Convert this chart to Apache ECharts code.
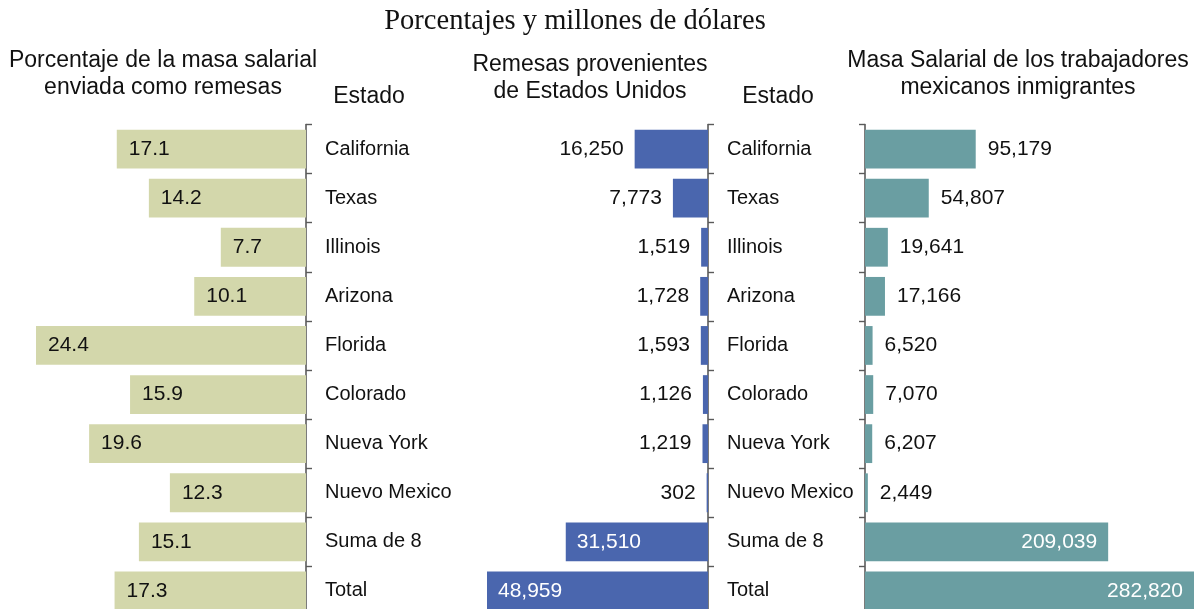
<!DOCTYPE html>
<html>
<head>
<meta charset="utf-8">
<script src="https://cdn.jsdelivr.net/npm/echarts@6/dist/echarts.min.js"></script>
<style>
html,body{margin:0;padding:0;background:#fff;}
#c{width:1194px;height:609px;}
</style>
</head>
<body>
<div id="c"></div>
<script>
var categories = ['California','Texas','Illinois','Arizona','Florida','Colorado','Nueva York','Nuevo Mexico','Suma de 8','Total'];
var pctRemesas = [17.1, 14.2, 7.7, 10.1, 24.4, 15.9, 19.6, 12.3, 15.1, 17.3];
var remesas = [16250, 7773, 1519, 1728, 1593, 1126, 1219, 302, 31510, 48959];
var masaSalarial = [95179, 54807, 19641, 17166, 6520, 7070, 6207, 2449, 209039, 282820];

var FONT = '"Liberation Sans", Arial, sans-serif';
var AX = '#5a5a5a';
function fmt(v){ return Number(v).toLocaleString('en-US'); }

var gridTop = 124.5, gridH = 491;

var chart = echarts.init(document.getElementById('c'), null, {renderer:'canvas'});

function catAxis(gridIndex, pos, showLabel){
  return {
    type:'category', gridIndex:gridIndex, data:categories, inverse:true, position:pos,
    axisLine:{show:true, lineStyle:{color:AX, width:1.6}},
    axisTick:{show:true, inside:false, length:6, alignWithLabel:false, lineStyle:{color:AX, width:1.4}},
    axisLabel:{show:showLabel, margin:19, color:'#111', fontFamily:FONT, fontSize:20},
    splitLine:{show:false}
  };
}
function valAxis(gridIndex, max, inverse){
  return {
    type:'value', gridIndex:gridIndex, min:0, max:max, inverse:inverse, show:false,
    splitLine:{show:false}
  };
}

var midData = remesas.map(function(v,i){
  var big = i >= 8;
  return {value:v, label: big ?
    {position:'insideLeft', distance:11, color:'#fff'} :
    {position:'left', distance:11, color:'#111'}};
});
var rightData = masaSalarial.map(function(v,i){
  var big = i >= 8;
  return {value:v, label: big ?
    {position:'insideRight', distance:11, color:'#fff'} :
    {position:'right', distance:12, color:'#111'}};
});

var option = {
  animation:false,
  backgroundColor:'#fff',
  grid:[
    {left:36, width:270, top:gridTop, height:gridH, outerBoundsMode:'none', containLabel:false},
    {left:487, width:221, top:gridTop, height:gridH, outerBoundsMode:'none', containLabel:false},
    {left:865, width:329, top:gridTop, height:gridH, outerBoundsMode:'none', containLabel:false}
  ],
  xAxis:[
    valAxis(0, 24.4, true),
    valAxis(1, 48959, true),
    valAxis(2, 282820, false)
  ],
  yAxis:[
    catAxis(0, 'right', true),
    catAxis(1, 'right', true),
    catAxis(2, 'left', false)
  ],
  series:[
    {type:'bar', xAxisIndex:0, yAxisIndex:0, data:pctRemesas, barCategoryGap:'21%',
     itemStyle:{color:'#d3d7ab'},
     label:{show:true, position:'insideLeft', distance:12, color:'#111', fontFamily:FONT, fontSize:21,
            formatter:function(p){return p.value.toFixed(1);}}},
    {type:'bar', xAxisIndex:1, yAxisIndex:1, data:midData, barCategoryGap:'21%',
     itemStyle:{color:'#4a66ae'},
     label:{show:true, fontFamily:FONT, fontSize:21, formatter:function(p){return fmt(p.value);}}},
    {type:'bar', xAxisIndex:2, yAxisIndex:2, data:rightData, barCategoryGap:'21%',
     itemStyle:{color:'#6a9ea2'},
     label:{show:true, fontFamily:FONT, fontSize:21, formatter:function(p){return fmt(p.value);}}}
  ],
  graphic:[
    {type:'text', style:{text:'Porcentajes y millones de dólares', x:575, y:22, textAlign:'center', textVerticalAlign:'middle',
      font:'28.5px "Liberation Serif", "Times New Roman", serif', fill:'#111'}},
    {type:'text', style:{text:'Porcentaje de la masa salarial\nenviada como remesas', x:163, y:74, textAlign:'center', textVerticalAlign:'middle',
      font:'23px '+FONT, lineHeight:27, fill:'#111'}},
    {type:'text', style:{text:'Remesas provenientes\nde Estados Unidos', x:590, y:78.5, textAlign:'center', textVerticalAlign:'middle',
      font:'23px '+FONT, lineHeight:27, fill:'#111'}},
    {type:'text', style:{text:'Masa Salarial de los trabajadores\nmexicanos inmigrantes', x:1018, y:74, textAlign:'center', textVerticalAlign:'middle',
      font:'23px '+FONT, lineHeight:27, fill:'#111'}},
    {type:'text', style:{text:'Estado', x:369, y:97, textAlign:'center', textVerticalAlign:'middle',
      font:'23px '+FONT, fill:'#111'}},
    {type:'text', style:{text:'Estado', x:778, y:97, textAlign:'center', textVerticalAlign:'middle',
      font:'23px '+FONT, fill:'#111'}}
  ]
};
chart.setOption(option);
</script>
</body>
</html>
